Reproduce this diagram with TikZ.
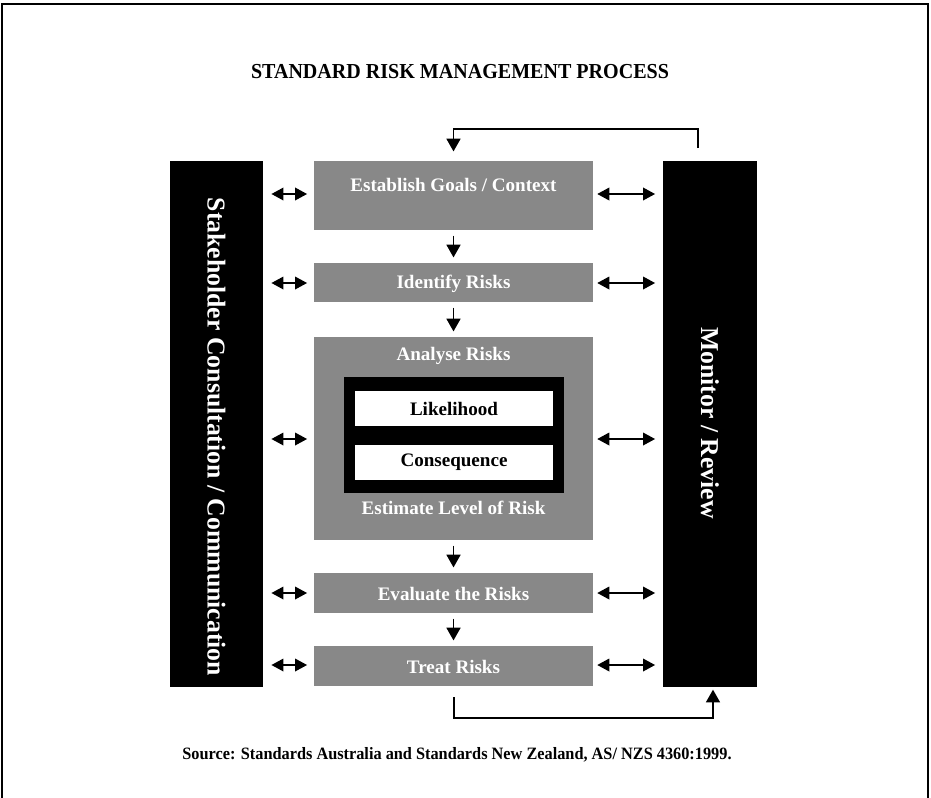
\documentclass[tikz,border=0pt]{standalone}
\usepackage{fontspec}
\setmainfont{Liberation Serif}
\newfontfamily\narrowserif[FakeStretch=0.94]{Liberation Serif}
\usetikzlibrary{arrows.meta,calc}
\definecolor{boxgray}{HTML}{888888}
\begin{document}
\begin{tikzpicture}[x=0.75pt,y=-0.75pt,
  bar/.style={fill=black,draw=none,inner sep=0pt,minimum width=70pt,minimum height=394.5pt},
  graybox/.style={fill=boxgray,draw=none,inner sep=0pt,minimum width=209.25pt},
  whitebox/.style={fill=white,draw=none,inner sep=0pt,minimum width=148.5pt,minimum height=26.25pt,font=\bfseries\fontsize{14.3}{16}\selectfont},
  boxtext/.style={text=white,font=\bfseries\fontsize{14.3}{16}\selectfont,inner sep=0pt},
  bartext/.style={text=white,font=\bfseries\fontsize{19.3}{22}\selectfont,inner sep=0pt,rotate=-90},
  arr/.style={line width=1pt,-{Triangle[length=9.5pt,width=10.5pt]}},
  darr/.style={line width=1pt,{Triangle[length=9pt,width=9.5pt]}-{Triangle[length=9pt,width=9.5pt]}}
]
\useasboundingbox (0,0) rectangle (931,797);
\draw[line width=0.9pt] (2,800) -- (2,4) -- (928,4) -- (928,800);

\node[font=\narrowserif\bfseries\fontsize{16}{18}\selectfont,inner sep=0pt] (title) at (460,72) {STANDARD RISK MANAGEMENT PROCESS};

\node[bar] (stake) at (216.5,424) {};
\node[bar] (monitor) at (710,424) {};
\node[bartext] (staketext) at (216.5,437) {Stakeholder Consultation / Communication};
\node[bartext] (montext) at (710,423) {Monitor / Review};

\node[graybox,minimum height=51.75pt] (est) at (453.5,195.5) {};
\node[boxtext] (esttext) at (453.5,185) {Establish Goals / Context};
\node[graybox,minimum height=29.25pt] (ident) at (453.5,282.5) {};
\node[boxtext] (identtext) at (453.5,284) {Identify Risks};
\node[graybox,minimum height=152.25pt] (anal) at (453.5,438.5) {};
\node[boxtext] (analtext) at (453.5,356) {Analyse Risks};
\node[fill=black,inner sep=0pt,minimum width=165pt,minimum height=87pt] (inner) at (454,435) {};
\node[whitebox] (like) at (454,408.5) {Likelihood};
\node[whitebox] (cons) at (454,462.5) {Consequence};
\node[boxtext] (esttext2) at (453.5,508) {Estimate Level of Risk};
\node[graybox,minimum height=30pt] (eval) at (453.5,593) {};
\node[boxtext] (evaltext) at (453.5,594) {Evaluate the Risks};
\node[graybox,minimum height=30pt] (treat) at (453.5,666) {};
\node[boxtext] (treattext) at (453.5,667) {Treat Risks};

% vertical flow
\foreach \a/\b in {est/ident,ident/anal,anal/eval,eval/treat}
  \draw[arr,shorten <=4pt,shorten >=4pt] (\a.south) -- (\b.north);

% double arrows
\foreach \b/\yy in {est/194,ident/283,anal/439,eval/593,treat/665}{
  \draw[darr,shorten <=6pt,shorten >=5pt] (stake.east |- 0,\yy) -- (\b.west |- 0,\yy);
  \draw[darr,shorten <=3pt,shorten >=6pt] (\b.east |- 0,\yy) -- (monitor.west |- 0,\yy);
}

% feedback loops
\coordinate (fbtop) at (698,148);
\draw[arr,shorten >=7pt] (fbtop) -- (698,129) -| (est.north);
\coordinate (fbbot) at (454,697);
\draw[arr,shorten >=2pt] (fbbot) -- (454,718) -| (713,687);

\node[font=\narrowserif\bfseries\fontsize{13}{15}\selectfont,inner sep=0pt] (source) at (457,755) {Source: Standards Australia and Standards New Zealand, AS/ NZS 4360:1999.};
\end{tikzpicture}
\end{document}
